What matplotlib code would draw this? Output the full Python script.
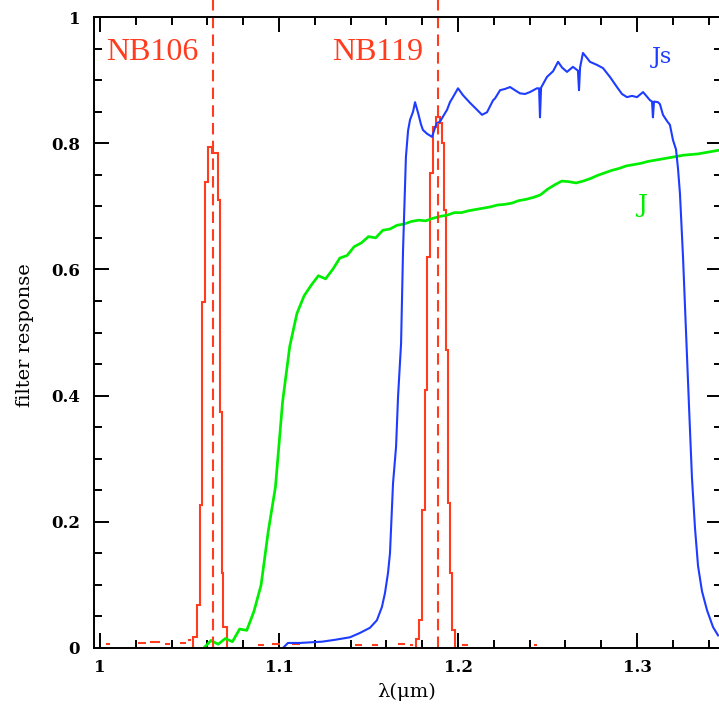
import matplotlib
matplotlib.use("Agg")
import matplotlib.pyplot as plt
from matplotlib.ticker import FixedLocator, MultipleLocator

# ---------------- data ----------------
# NB106 narrow-band filter (histogram bins)
nb106_edges = [1.0521, 1.0540, 1.0559, 1.0572, 1.0587, 1.0605, 1.0626,
               1.0660, 1.0670, 1.0680, 1.0689, 1.0707]
nb106_vals = [0.017, 0.068, 0.226, 0.548, 0.738, 0.794, 0.785,
              0.710, 0.374, 0.119, 0.033]

# NB119 narrow-band filter (histogram bins)
nb119_edges = [1.1765, 1.1782, 1.1799, 1.1813, 1.1827, 1.1841, 1.1858, 1.1877,
               1.1897, 1.1911, 1.1922, 1.1933, 1.1944, 1.1955, 1.1966, 1.1983]
nb119_vals = [0.015, 0.044, 0.219, 0.409, 0.620, 0.753, 0.826, 0.842,
              0.832, 0.800, 0.694, 0.472, 0.230, 0.119, 0.029]

# small red noise bumps along the baseline (start, end, level)
red_noise_start = [1.0034, 1.0212, 1.0279, 1.0363, 1.0447, 1.0492, 1.0883, 1.0961,
                   1.1073, 1.1425, 1.1520, 1.1665, 1.1732, 1.2022, 1.2425]
red_noise_end = [1.0056, 1.0257, 1.0335, 1.0391, 1.0480, 1.0508, 1.0916, 1.1006,
                 1.1117, 1.1464, 1.1553, 1.1704, 1.1749, 1.2056, 1.2441]
red_noise_level = [0.006, 0.008, 0.010, 0.006, 0.008, 0.012, 0.005, 0.006,
                   0.006, 0.005, 0.004, 0.006, 0.004, 0.004, 0.004]

# NB filter central wavelengths (dashed lines)
nb_centers = [1.0633, 1.1890]

# J broad-band filter
j_lam = [1.058, 1.062, 1.066, 1.070, 1.074, 1.078, 1.082, 1.086, 1.090, 1.094,
         1.098, 1.102, 1.106, 1.110, 1.114, 1.118, 1.122, 1.126, 1.130, 1.134,
         1.138, 1.142, 1.146, 1.150, 1.154, 1.158, 1.162, 1.166, 1.170, 1.174,
         1.178, 1.182, 1.186, 1.190, 1.194, 1.198, 1.202, 1.206, 1.210, 1.214,
         1.218, 1.222, 1.226, 1.230, 1.234, 1.238, 1.242, 1.246, 1.250, 1.254,
         1.258, 1.262, 1.266, 1.270, 1.274, 1.278, 1.282, 1.286, 1.290, 1.294,
         1.298, 1.302, 1.306, 1.310, 1.314, 1.318, 1.322, 1.326, 1.330, 1.334,
         1.338, 1.342, 1.346]
j_resp = [0.000, 0.012, 0.006, 0.015, 0.010, 0.030, 0.028, 0.058, 0.100, 0.185,
          0.255, 0.390, 0.478, 0.530, 0.558, 0.575, 0.590, 0.585, 0.600, 0.618,
          0.622, 0.636, 0.642, 0.652, 0.650, 0.662, 0.664, 0.670, 0.672, 0.676,
          0.678, 0.677, 0.681, 0.684, 0.686, 0.690, 0.690, 0.693, 0.695, 0.697,
          0.699, 0.702, 0.703, 0.705, 0.709, 0.711, 0.714, 0.718, 0.727, 0.734,
          0.740, 0.739, 0.737, 0.740, 0.744, 0.749, 0.753, 0.757, 0.760, 0.764,
          0.766, 0.768, 0.771, 0.773, 0.775, 0.777, 0.779, 0.781, 0.782, 0.783,
          0.785, 0.787, 0.789]

# Js broad-band filter
js_lam = [1.1022, 1.1050, 1.1117, 1.1240, 1.1313, 1.1397, 1.1453, 1.1508, 1.1547,
          1.1575, 1.1592, 1.1609, 1.1620, 1.1637, 1.1654, 1.1665, 1.1682, 1.1693,
          1.1709, 1.1721, 1.1732, 1.1749, 1.1760, 1.1777, 1.1793, 1.1804, 1.1827,
          1.1855, 1.1872, 1.1883, 1.1899, 1.1922, 1.1939, 1.1955, 1.1972, 1.2000,
          1.2028, 1.2067, 1.2106, 1.2134, 1.2162, 1.2196, 1.2207, 1.2235, 1.2263,
          1.2291, 1.2318, 1.2346, 1.2374, 1.2402, 1.2441, 1.2453, 1.2458, 1.2464,
          1.2497, 1.2531, 1.2559, 1.2581, 1.2609, 1.2642, 1.2670, 1.2676, 1.2682,
          1.2698, 1.2721, 1.2737, 1.2777, 1.2810, 1.2849, 1.2888, 1.2916, 1.2944,
          1.2972, 1.3000, 1.3034, 1.3061, 1.3073, 1.3084, 1.3089, 1.3095, 1.3117,
          1.3128, 1.3145, 1.3168, 1.3184, 1.3201, 1.3218, 1.3229, 1.3240, 1.3257,
          1.3274, 1.3291, 1.3307, 1.3324, 1.3341, 1.3363, 1.3391, 1.3425, 1.3453]
js_resp = [0.000, 0.008, 0.008, 0.010, 0.013, 0.017, 0.024, 0.032, 0.044,
           0.065, 0.087, 0.119, 0.150, 0.261, 0.319, 0.398, 0.483, 0.631,
           0.778, 0.820, 0.837, 0.850, 0.865, 0.848, 0.830, 0.821, 0.815,
           0.810, 0.825, 0.832, 0.834, 0.845, 0.853, 0.865, 0.873, 0.887,
           0.876, 0.864, 0.853, 0.845, 0.849, 0.868, 0.871, 0.884, 0.886,
           0.889, 0.884, 0.879, 0.878, 0.881, 0.887, 0.887, 0.841, 0.888,
           0.905, 0.914, 0.929, 0.920, 0.913, 0.921, 0.915, 0.884, 0.920,
           0.943, 0.935, 0.929, 0.924, 0.919, 0.905, 0.889, 0.878, 0.873,
           0.875, 0.873, 0.881, 0.872, 0.868, 0.866, 0.841, 0.866, 0.865,
           0.862, 0.845, 0.835, 0.829, 0.805, 0.790, 0.760, 0.720, 0.620,
           0.500, 0.380, 0.270, 0.190, 0.130, 0.090, 0.060, 0.033, 0.020]

xtick_vals = [1.0, 1.1, 1.2, 1.3]
xtick_labels = ["1", "1.1", "1.2", "1.3"]
ytick_vals = [0.0, 0.2, 0.4, 0.6, 0.8, 1.0]
ytick_labels = ["0", "0.2", "0.4", "0.6", "0.8", "1"]

# ---------------- style ----------------
RED = "#ff3c1e"
BLUE = "#1e3cff"
GREEN = "#00ee00"
LW = 1.5

fig = plt.figure(figsize=(7.19, 7.08), dpi=100)
ax = fig.add_axes([94 / 719, 60 / 708, 628 / 719, 631 / 708])

ax.stairs(nb106_vals, nb106_edges, color=RED, lw=LW, baseline=0)
ax.stairs(nb119_vals, nb119_edges, color=RED, lw=LW, baseline=0)
ax.hlines(red_noise_level, red_noise_start, red_noise_end, color=RED, lw=LW)
ax.plot(j_lam, j_resp, color=GREEN, lw=LW * 1.3)
ax.plot(js_lam, js_resp, color=BLUE, lw=LW)
for c in nb_centers:
    ax.plot([c, c], [0, 1.035], color=RED, lw=LW, linestyle=(0, (5.5, 3.0)),
            clip_on=False)

ax.set_xlim(1 - 6 / 1790, 1 + 622 / 1790)
ax.set_ylim(0, 1)

ax.xaxis.set_major_locator(FixedLocator(xtick_vals))
ax.set_xticklabels(xtick_labels)
ax.yaxis.set_major_locator(FixedLocator(ytick_vals))
ax.set_yticklabels(ytick_labels)
ax.xaxis.set_minor_locator(MultipleLocator(0.02))
ax.yaxis.set_minor_locator(MultipleLocator(0.05))
ax.tick_params(which="both", direction="in", top=True, right=True,
               width=1.4, color="black")
ax.tick_params(which="major", length=11)
ax.tick_params(which="minor", length=5.5)
ax.tick_params(axis="y", which="major", pad=10)
ax.tick_params(axis="x", which="major", pad=8)
for lab in ax.get_xticklabels() + ax.get_yticklabels():
    lab.set_fontfamily("DejaVu Serif")
    lab.set_fontweight("bold")
    lab.set_fontsize(12)
for s in ax.spines.values():
    s.set_linewidth(1.4)

ax.set_xlabel("λ(μm)", fontfamily="DejaVu Serif", fontsize=14)
ax.set_ylabel("filter response", fontfamily="DejaVu Serif", fontsize=14)
ax.xaxis.set_label_coords((407 - 94) / 628, (648 - 692) / 631)
ax.xaxis.label.set_va("center")
ax.yaxis.set_label_coords((25 - 94) / 628, (648 - 335) / 631)
ax.yaxis.label.set_va("center")

ax.text(1.0034, 0.932, "NB106", color=RED, fontfamily="Liberation Serif",
        fontsize=23, ha="left", va="baseline")
ax.text(1.1296, 0.932, "NB119", color=RED, fontfamily="Liberation Serif",
        fontsize=23, ha="left", va="baseline")
ax.text(1.3084, 0.927, "Js", color=BLUE, fontfamily="DejaVu Serif",
        fontsize=16, ha="left", va="baseline")
ax.text(1.3000, 0.691, "J", color=GREEN, fontfamily="DejaVu Serif",
        fontsize=18, ha="left", va="baseline")

fig.savefig("out.png", dpi=100)
